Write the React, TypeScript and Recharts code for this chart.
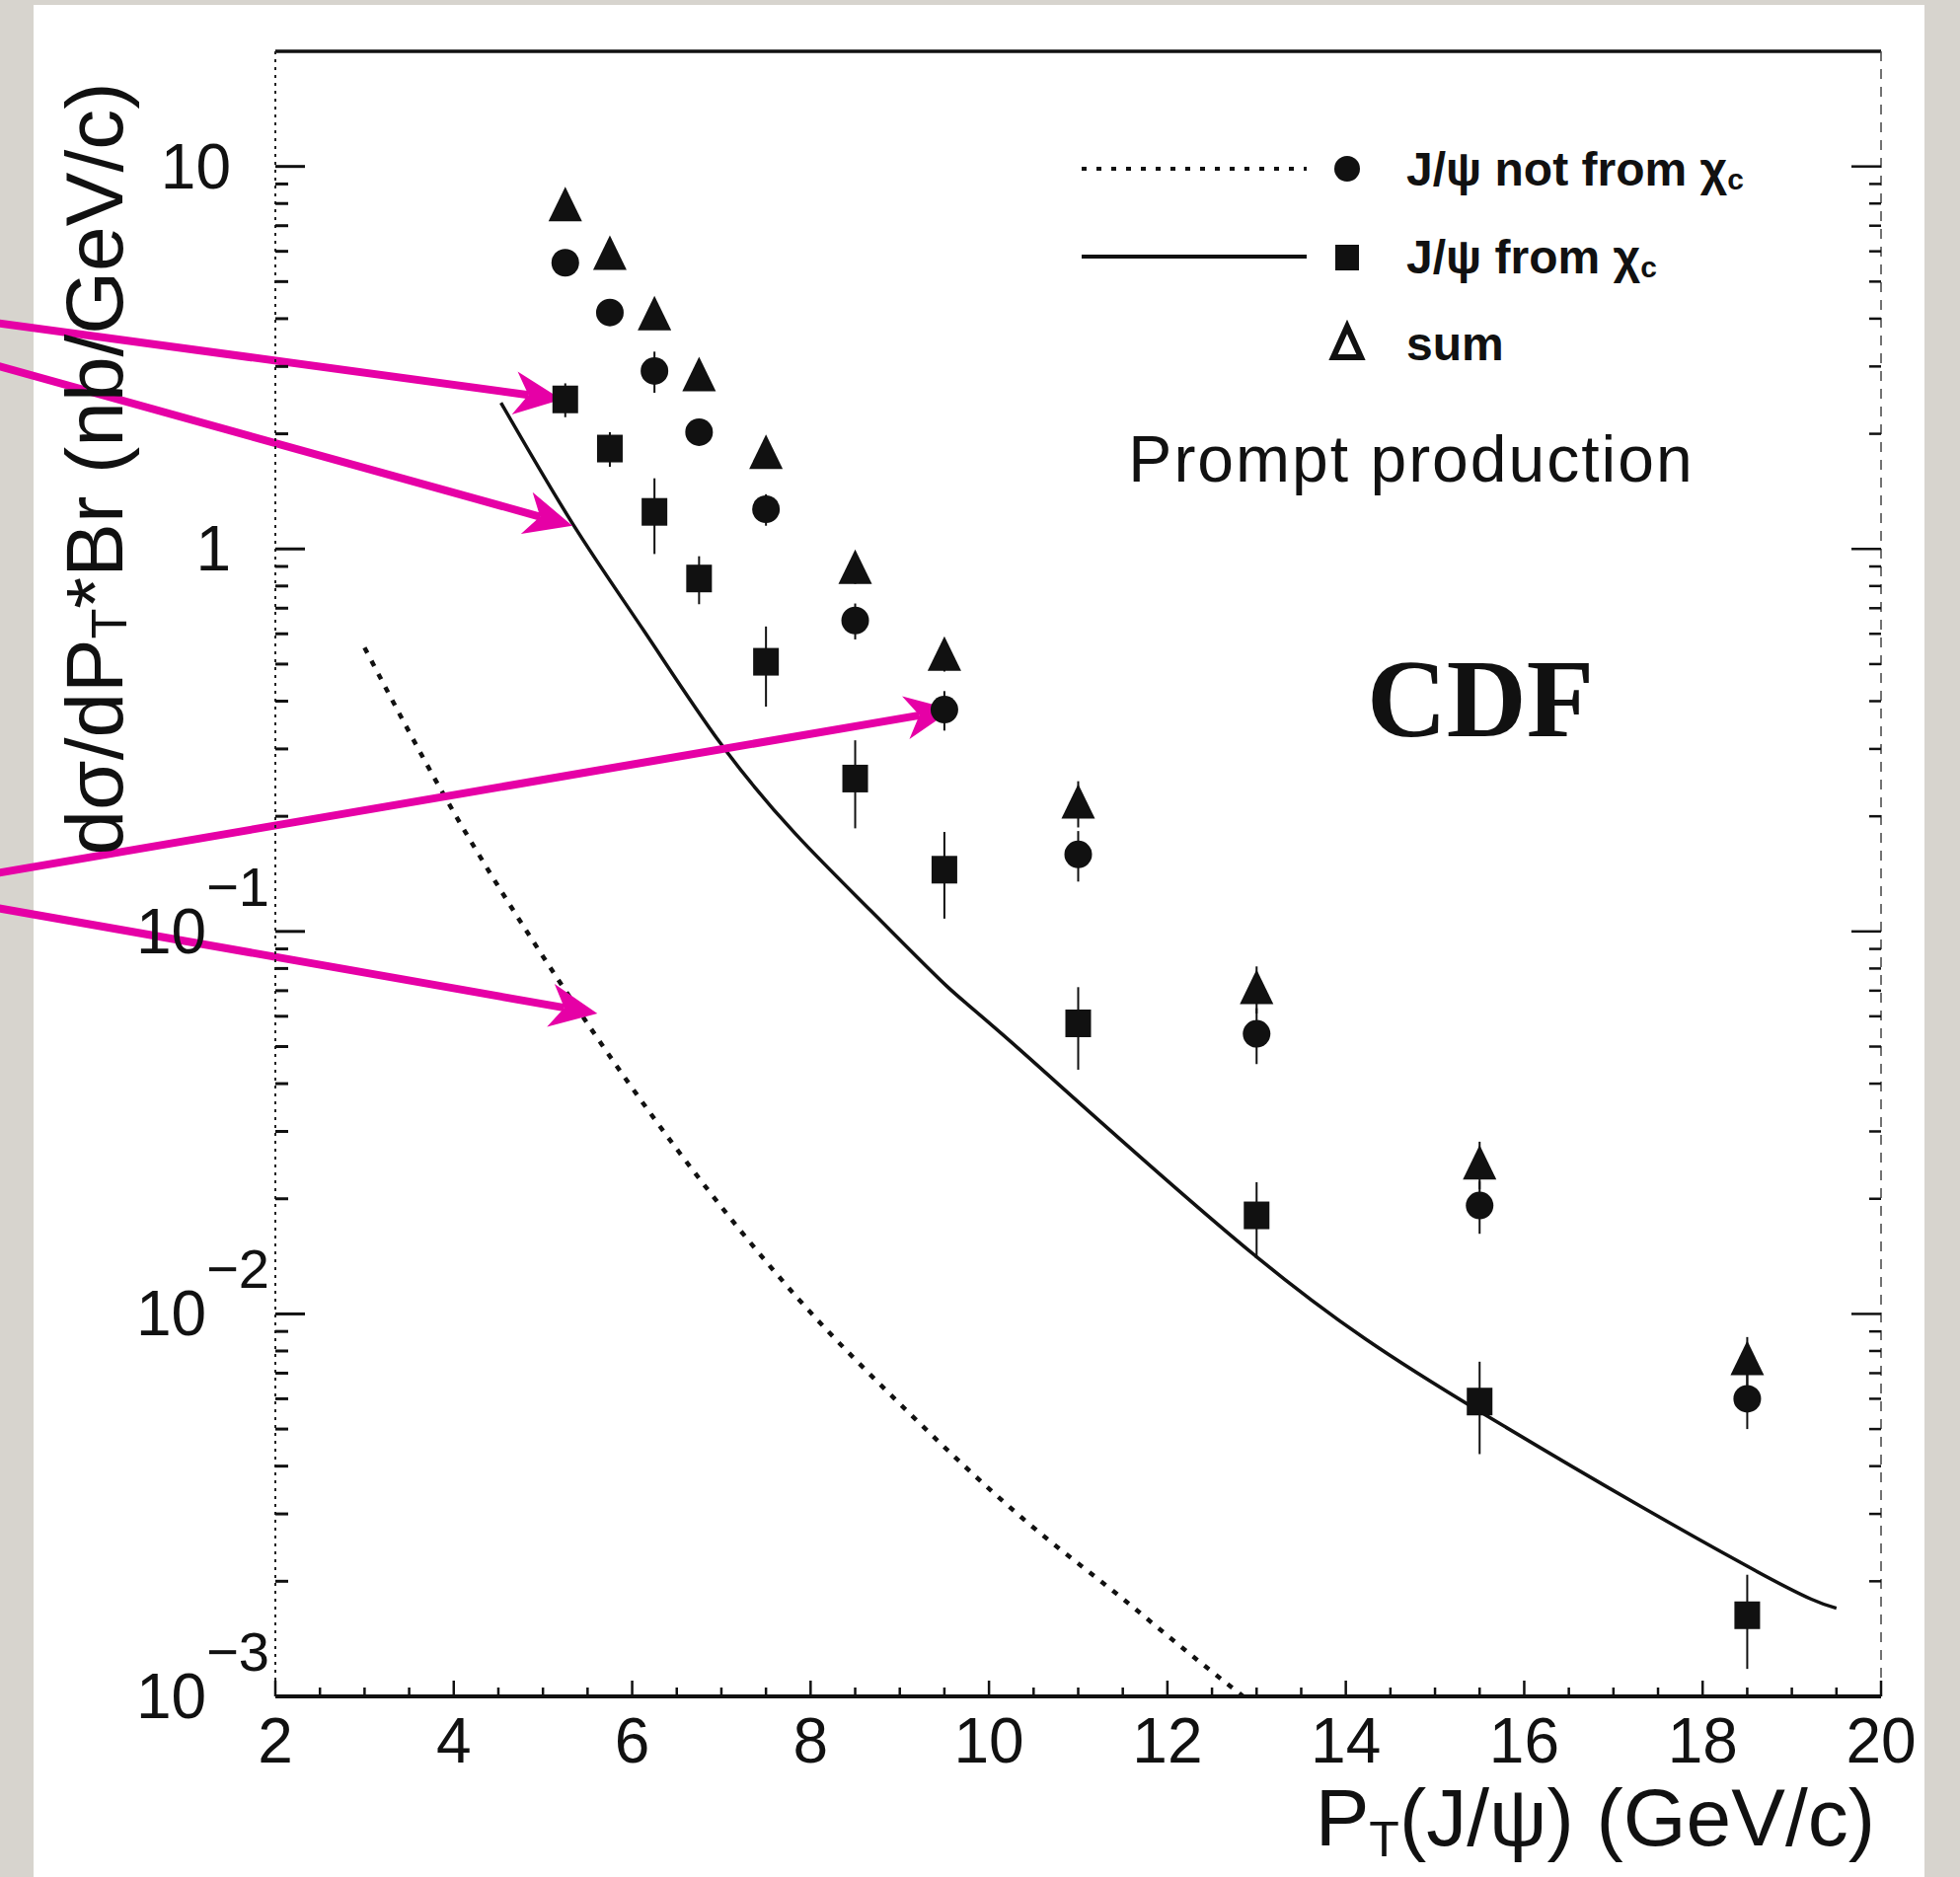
import React from 'react';
import { ComposedChart, Line, Scatter, XAxis, YAxis, ErrorBar, ReferenceLine, Legend } from 'recharts';

// pT bin centres (GeV/c)
const ptBins = [5.25, 5.75, 6.25, 6.75, 7.5, 8.5, 9.5, 11, 13, 15.5, 18.5];
// dsigma/dpT * Br (nb/GeV/c)
const notFromChi = [5.6, 4.15, 2.92, 2.02, 1.27, 0.65, 0.38, 0.159, 0.054, 0.0192, 0.006];
const notFromChiErr = [0.3, 0.25, 0.36, 0.15, 0.12, 0.07, 0.045, 0.024, 0.009, 0.003, 0.001];
const fromChi = [2.46, 1.83, 1.25, 0.837, 0.507, 0.251, 0.145, 0.0575, 0.0181, 0.0059, 0.00163];
const fromChiErr = [0.25, 0.19, 0.28, 0.12, 0.12, 0.065, 0.037, 0.014, 0.004, 0.0016, 0.00045];
const sumVals = [7.9, 5.9, 4.1, 2.84, 1.78, 0.89, 0.528, 0.217, 0.071, 0.0247, 0.0076];
const sumErr = [0.3, 0.3, 0.3, 0.2, 0.15, 0.08, 0.05, 0.03, 0.01, 0.0035, 0.0011];

// theory curves
const fromChiCurveX = [4.53, 5.35, 6.14, 6.985, 7.83, 8.68, 9.525, 10.37, 13.0, 15.5, 18.5, 19.5];
const fromChiCurveY = [2.41, 1.147, 0.607, 0.3115, 0.18, 0.113, 0.072, 0.0485, 0.0141, 0.00556, 0.00219, 0.0017];
const notChiCurveX = [3.0, 3.91, 5.24, 6.52, 7.87, 9.09, 10.37, 11.5, 12.29, 12.85];
const notChiCurveY = [0.552, 0.223, 0.0707, 0.0266, 0.0109, 0.00555, 0.00293, 0.0018, 0.00127, 0.001];

// axis ticks
const xTicks = [2, 2.5, 3, 3.5, 4, 4.5, 5, 5.5, 6, 6.5, 7, 7.5, 8, 8.5, 9, 9.5, 10, 10.5, 11, 11.5, 12, 12.5,
  13, 13.5, 14, 14.5, 15, 15.5, 16, 16.5, 17, 17.5, 18, 18.5, 19, 19.5, 20];
const xTickLabels = [2, 4, 6, 8, 10, 12, 14, 16, 18, 20];
const yTicks = [0.001, 0.002, 0.003, 0.004, 0.005, 0.006, 0.007, 0.008, 0.009,
  0.01, 0.02, 0.03, 0.04, 0.05, 0.06, 0.07, 0.08, 0.09,
  0.1, 0.2, 0.3, 0.4, 0.5, 0.6, 0.7, 0.8, 0.9,
  1, 2, 3, 4, 5, 6, 7, 8, 9, 10];
const yDecades = [0.001, 0.01, 0.1, 1, 10];

// annotation arrows (data coordinates)
const arrowTails = [
  { x: -1.2, y: 3.92 },
  { x: -1.2, y: 3.05 },
  { x: -1.2, y: 0.141 },
  { x: -1.2, y: 0.116 },
];
const arrowTips = [
  { x: 5.21, y: 2.46 },
  { x: 5.33, y: 1.15 },
  { x: 9.59, y: 0.38 },
  { x: 5.61, y: 0.061 },
];

const ink = '#111';
const magenta = '#e600a6';
const sans = '"Liberation Sans", Arial, sans-serif';
const numStyle = { fontFamily: sans, fontSize: 64, fill: ink };

const toPts = (xs: number[], ys: number[], errs?: number[]) =>
  xs.map((x, i) => ({ x, y: ys[i], err: errs ? errs[i] : 0 }));

const Dot = ({ cx, cy }: any) => <circle cx={cx} cy={cy} r={14} fill={ink} />;
const Box = ({ cx, cy }: any) => <rect x={cx - 13} y={cy - 14} width={26} height={28} fill={ink} />;
const Tri = ({ cx, cy }: any) => (
  <polygon points={`${cx},${cy - 19} ${cx - 17},${cy + 16} ${cx + 17},${cy + 16}`} fill={ink} />
);

const LeftTick = ({ x, y, payload }: any) => {
  const v = payload.value;
  const major = yDecades.includes(v);
  const e = Math.round(Math.log10(v));
  return (
    <g>
      <line x1={x} x2={x + (major ? 30 : 13)} y1={y} y2={y} stroke={ink} strokeWidth={3} />
      {major && e >= 0 && (
        <text x={x - 45} y={y} textAnchor="end" dominantBaseline="central" style={numStyle}>{String(v)}</text>
      )}
      {major && e < 0 && (
        <text x={x - 6} y={y} textAnchor="end" dominantBaseline="central" style={numStyle}>
          10<tspan dy={-46} fontSize={56}>{'\u2212' + -e}</tspan>
        </text>
      )}
    </g>
  );
};

const RightTick = ({ x, y, payload }: any) => {
  const major = yDecades.includes(payload.value);
  return <line x1={x} x2={x - (major ? 30 : 12)} y1={y} y2={y} stroke={ink} strokeWidth={2.5} />;
};

const BottomTick = ({ x, y, payload }: any) => {
  const major = xTickLabels.includes(payload.value);
  return (
    <g>
      <line x1={x} x2={x} y1={y} y2={y - (major ? 16 : 9)} stroke={ink} strokeWidth={2.5} />
      {major && (
        <text x={x} y={y + 67} textAnchor="middle" style={numStyle}>{payload.value}</text>
      )}
    </g>
  );
};

const TopTick = ({ x, y, payload }: any) => {
  const major = xTickLabels.includes(payload.value);
  return <line x1={x} x2={x} y1={y} y2={y + (major ? 12 : 7)} stroke={ink} strokeWidth={2.5} />;
};

const YTitle = () => (
  <text
    transform="translate(95,475) rotate(-90)"
    textAnchor="middle"
    dominantBaseline="central"
    style={{ fontFamily: sans, fontSize: 82, fill: ink }}
  >
    dσ/dP<tspan dy={16} fontSize={50}>T</tspan>
    <tspan dy={-16}>*Br (nb/GeV/c)</tspan>
  </text>
);

const XTitle = () => (
  <text x={1900} y={1870} textAnchor="end" style={{ fontFamily: sans, fontSize: 82, fill: ink }}>
    P<tspan dy={11} fontSize={50}>T</tspan>
    <tspan dy={-11}>(J/ψ) (GeV/c)</tspan>
  </text>
);

const Arrow = (props: any) => {
  const { x1, y1, x2, y2 } = props;
  const dx = x2 - x1;
  const dy = y2 - y1;
  const len = Math.hypot(dx, dy) || 1;
  const ux = dx / len;
  const uy = dy / len;
  const nx = -uy;
  const ny = ux;
  const head = 48;
  const half = 22;
  const notch = 34;
  const bx = x2 - ux * head;
  const by = y2 - uy * head;
  const mx = x2 - ux * notch;
  const my = y2 - uy * notch;
  const pts = `${x2},${y2} ${bx + nx * half},${by + ny * half} ${mx},${my} ${bx - nx * half},${by - ny * half}`;
  return (
    <g>
      <line x1={x1} y1={y1} x2={mx} y2={my} stroke={magenta} strokeWidth={8} />
      <polygon points={pts} fill={magenta} />
    </g>
  );
};

const legendText = { fontFamily: sans, fontSize: 48, fontWeight: 700, fill: ink };

const LegendBox = () => (
  <svg width={880} height={260} style={{ overflow: 'visible' }}>
    <line x1={16} x2={244} y1={41} y2={41} stroke={ink} strokeWidth={4} strokeDasharray="5 10" />
    <circle cx={285} cy={41} r={13} fill={ink} />
    <text x={345} y={41} dominantBaseline="central" style={legendText}>
      J/ψ not from χ<tspan dy={10} fontSize={30}>c</tspan>
    </text>
    <line x1={16} x2={244} y1={130} y2={130} stroke={ink} strokeWidth={4} />
    <rect x={273} y={118} width={24} height={26} fill={ink} />
    <text x={345} y={130} dominantBaseline="central" style={legendText}>
      J/ψ from χ<tspan dy={10} fontSize={30}>c</tspan>
    </text>
    <polygon points="285,201 271,232 299,232" fill="#fff" stroke={ink} strokeWidth={6} strokeLinejoin="miter" />
    <text x={345} y={218} dominantBaseline="central" style={legendText}>sum</text>
  </svg>
);

export default function App() {
  const notFromChiPts = toPts(ptBins, notFromChi, notFromChiErr);
  const fromChiPts = toPts(ptBins, fromChi, fromChiErr);
  const sumPts = toPts(ptBins, sumVals, sumErr);
  const fromChiCurve = toPts(fromChiCurveX, fromChiCurveY);
  const notChiCurve = toPts(notChiCurveX, notChiCurveY);

  return (
    <div style={{ position: 'absolute', left: 0, top: 0, width: 1986, height: 1902, background: '#d7d4ce', overflow: 'hidden' }}>
      <div style={{ position: 'absolute', left: 34, top: 5, width: 1916, height: 1897, background: '#ffffff' }} />
      <div style={{ position: 'absolute', left: 0, top: 0 }}>
        <ComposedChart width={1986} height={1902} margin={{ top: 32, right: 60, bottom: 83, left: 79 }}>
          <XAxis
            dataKey="x"
            type="number"
            domain={[2, 20]}
            allowDataOverflow
            ticks={xTicks}
            interval={0}
            tickSize={0}
            tickMargin={0}
            tickLine={false}
            tick={<BottomTick />}
            axisLine={{ stroke: ink, strokeWidth: 4 }}
            height={100}
            label={<XTitle />}
          />
          <XAxis
            xAxisId="top"
            orientation="top"
            type="number"
            domain={[2, 20]}
            allowDataOverflow
            ticks={xTicks}
            interval={0}
            tickSize={0}
            tickMargin={0}
            tickLine={false}
            tick={<TopTick />}
            axisLine={{ stroke: ink, strokeWidth: 3.5 }}
            height={20}
          />
          <YAxis
            type="number"
            scale="log"
            domain={[0.001, 20]}
            allowDataOverflow
            ticks={yTicks}
            interval={0}
            tickSize={0}
            tickMargin={0}
            tickLine={false}
            tick={<LeftTick />}
            axisLine={{ stroke: '#222', strokeWidth: 2, strokeDasharray: '3 5' }}
            width={200}
            label={<YTitle />}
          />
          <YAxis
            yAxisId="right"
            orientation="right"
            type="number"
            scale="log"
            domain={[0.001, 20]}
            allowDataOverflow
            ticks={yTicks}
            interval={0}
            tickSize={0}
            tickMargin={0}
            tickLine={false}
            tick={<RightTick />}
            axisLine={{ stroke: '#444', strokeWidth: 1.5, strokeDasharray: '10 8' }}
            width={20}
          />
          <Legend
            layout="vertical"
            align="center"
            verticalAlign="middle"
            wrapperStyle={{ left: 1080, top: 130, width: 880, height: 260 }}
            content={<LegendBox />}
          />
          <Line
            data={notChiCurve}
            dataKey="y"
            type="monotone"
            stroke={ink}
            strokeWidth={4.5}
            strokeDasharray="6 9"
            dot={false}
            activeDot={false}
            isAnimationActive={false}
            name="J/ψ not from χc (theory)"
          />
          <Line
            data={fromChiCurve}
            dataKey="y"
            type="natural"
            stroke={ink}
            strokeWidth={3.5}
            dot={false}
            activeDot={false}
            isAnimationActive={false}
            name="J/ψ from χc (theory)"
          />
          <Scatter data={fromChiPts} dataKey="y" shape={<Box />} isAnimationActive={false} name="J/ψ from χc">
            <ErrorBar dataKey="err" direction="y" width={0} stroke={ink} strokeWidth={2} />
          </Scatter>
          <Scatter data={notFromChiPts} dataKey="y" shape={<Dot />} isAnimationActive={false} name="J/ψ not from χc">
            <ErrorBar dataKey="err" direction="y" width={0} stroke={ink} strokeWidth={2} />
          </Scatter>
          <Scatter data={sumPts} dataKey="y" shape={<Tri />} isAnimationActive={false} name="sum">
            <ErrorBar dataKey="err" direction="y" width={0} stroke={ink} strokeWidth={2} />
          </Scatter>
          {arrowTips.map((tip, i) => (
            <ReferenceLine
              key={i}
              segment={[arrowTails[i], tip]}
              ifOverflow="visible"
              shape={Arrow}
            />
          ))}
        </ComposedChart>
      </div>
      <svg width={1986} height={1902} style={{ position: 'absolute', left: 0, top: 0, pointerEvents: 'none' }}>
        <text x={1430} y={488} textAnchor="middle" style={{ fontFamily: sans, fontSize: 66, letterSpacing: 2, fill: ink }}>
          Prompt production
        </text>
        <text x={1500} y={746} textAnchor="middle" style={{ fontFamily: '"Liberation Serif", "Times New Roman", serif', fontSize: 112, fontWeight: 700, fill: ink }}>
          CDF
        </text>
      </svg>
    </div>
  );
}
